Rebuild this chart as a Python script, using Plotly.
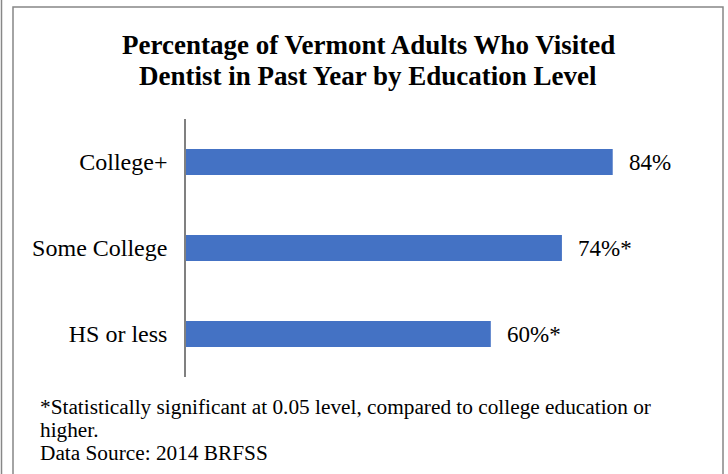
import plotly.graph_objects as go

categories = ["College+", "Some College", "HS or less"]
values = [84, 74, 60]
value_labels = ["84%", "74%*", "60%*"]

title_lines = ["<b>Percentage of Vermont Adults Who Visited</b>",
               "<b>Dentist in Past Year by Education Level</b>"]
footnote_lines = ["*Statistically significant at 0.05 level, compared to college education or",
                  "higher.",
                  "Data Source: 2014 BRFSS"]

W, H = 728, 474
L, R, T, B = 186, 34, 119, 97
PW, PH = W - L - R, H - T - B

def px(x):
    return (x - L) / PW

def py(y):
    return (H - B - y) / PH

FONT = "Liberation Serif, Times New Roman, serif"

fig = go.Figure(go.Bar(
    x=values, y=categories, orientation="h",
    marker=dict(color="#4472C4", line=dict(width=0)),
    width=0.3, hoverinfo="skip",
))

annotations = []
for c, v, t in zip(categories, values, value_labels):
    annotations.append(dict(x=v, y=c, xref="x", yref="y", text=t, showarrow=False,
                            xanchor="left", yanchor="middle", xshift=14,
                            font=dict(family=FONT, size=23, color="#000000")))

for i, (t, yy) in enumerate(zip(title_lines, [45, 76])):
    annotations.append(dict(x=px(368), y=py(yy), xref="paper", yref="paper", text=t,
                            showarrow=False, xanchor="center", yanchor="middle",
                            font=dict(family=FONT, size=27, color="#000000")))

for t, yy in zip(footnote_lines, [407, 430, 453]):
    annotations.append(dict(x=px(38), y=py(yy), xref="paper", yref="paper", text=t,
                            showarrow=False, xanchor="left", yanchor="middle",
                            font=dict(family=FONT, size=21.3, color="#000000")))

shapes = [
    dict(type="rect", xref="paper", yref="paper", x0=px(13), x1=px(723), y0=py(490), y1=py(7),
         line=dict(color="#878787", width=1.5), fillcolor="rgba(0,0,0,0)", layer="below"),
    dict(type="line", xref="paper", yref="paper", x0=px(1.5), x1=px(1.5), y0=py(480), y1=py(-5),
         line=dict(color="#878787", width=1.5)),
]

fig.update_layout(
    width=W, height=H,
    margin=dict(l=L, r=R, t=T, b=B, pad=0),
    paper_bgcolor="white", plot_bgcolor="white",
    showlegend=False,
    xaxis=dict(range=[0, 100], visible=False, fixedrange=True),
    yaxis=dict(range=[2.5, -0.5], type="category", showline=True, linecolor="#808080",
               linewidth=1.5, showgrid=False, zeroline=False, ticks="",
               ticklabelstandoff=12,
               tickfont=dict(family=FONT, size=24, color="#000000"), fixedrange=True),
    annotations=annotations,
    shapes=shapes,
)

fig.write_html("out.html", config={"displayModeBar": False},
               post_script="document.body.style.margin='0';document.body.style.overflow='hidden';")
